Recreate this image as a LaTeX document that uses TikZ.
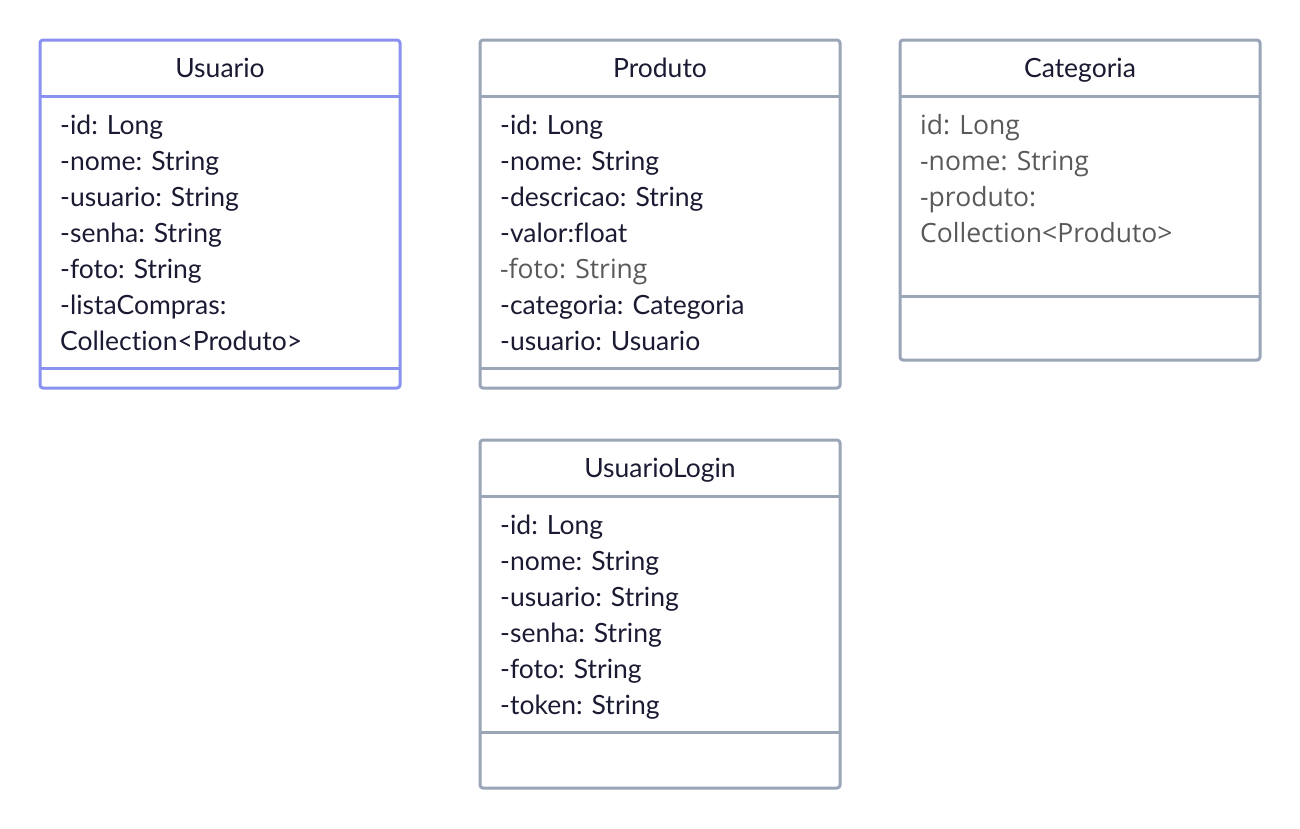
\documentclass[tikz,border=0pt]{standalone}
\usepackage{fontspec}
\setmainfont{Lato}[Ligatures=NoCommon]
\newfontfamily\opensans{Open Sans}
\usetikzlibrary{positioning}
\definecolor{azul}{HTML}{8A92F0}
\definecolor{cinza}{HTML}{9AA5B8}
\definecolor{texto}{HTML}{1A1A33}
\definecolor{apagado}{HTML}{595959}
\newcommand{\apagado}{\opensans\color{apagado}}

\begin{document}
\begin{tikzpicture}[x=1pt, y=-1pt,
    classe/.style={draw=cinza, line width=3pt, rounded corners=3pt},
    divisor/.style={draw=cinza, line width=3pt},
    titulo/.style={anchor=base, inner sep=0pt, text=texto,
      font=\fontsize{26.5}{36}\selectfont},
    atributo/.style={anchor=base west, inner sep=0pt, text=texto,
      font=\fontsize{26.5}{36}\selectfont}]
    \useasboundingbox (0,0) rectangle (1300,828);

    % Usuario
    \draw[classe, draw=azul] (40,40) rectangle (400,388);
    \draw[divisor, draw=azul] (40,96) -- (400,96);
    \draw[divisor, draw=azul] (40,368) -- (400,368);
    \node[titulo] (usuario) at (220,77) {Usuario};
    \foreach \t [count=\i] in {-id: Long, -nome: String, -usuario: String,
        -senha: String, -foto: String, -listaCompras:, Collection<Produto>}
      \node[atributo] (usuario-\i) at (60,98+36*\i) {\t};

    % Produto
    \draw[classe] (480,40) rectangle (840,388);
    \draw[divisor] (480,96) -- (840,96);
    \draw[divisor] (480,368) -- (840,368);
    \node[titulo] (produto) at (660,77) {Produto};
    \foreach \t [count=\i] in {-id: Long, -nome: String, -descricao: String,
        -valor:float, {\apagado -foto: String}, -categoria: Categoria,
        -usuario: Usuario}
      \node[atributo] (produto-\i) at (500,98+36*\i) {\t};

    % Categoria
    \draw[classe] (900,40) rectangle (1260,360);
    \draw[divisor] (900,96) -- (1260,96);
    \draw[divisor] (900,296) -- (1260,296);
    \node[titulo] (categoria) at (1080,77) {Categoria};
    \foreach \t [count=\i] in {id: Long, -nome: String, -produto:,
        Collection<Produto>}
      \node[atributo] (categoria-\i) at (920,98+36*\i) {\apagado\t};

    % UsuarioLogin
    \draw[classe] (480,440) rectangle (840,788);
    \draw[divisor] (480,496) -- (840,496);
    \draw[divisor] (480,732) -- (840,732);
    \node[titulo] (login) at (660,477) {UsuarioLogin};
    \foreach \t [count=\i] in {-id: Long, -nome: String, -usuario: String,
        -senha: String, -foto: String, -token: String}
      \node[atributo] (login-\i) at (500,498+36*\i) {\t};
\end{tikzpicture}
\end{document}
